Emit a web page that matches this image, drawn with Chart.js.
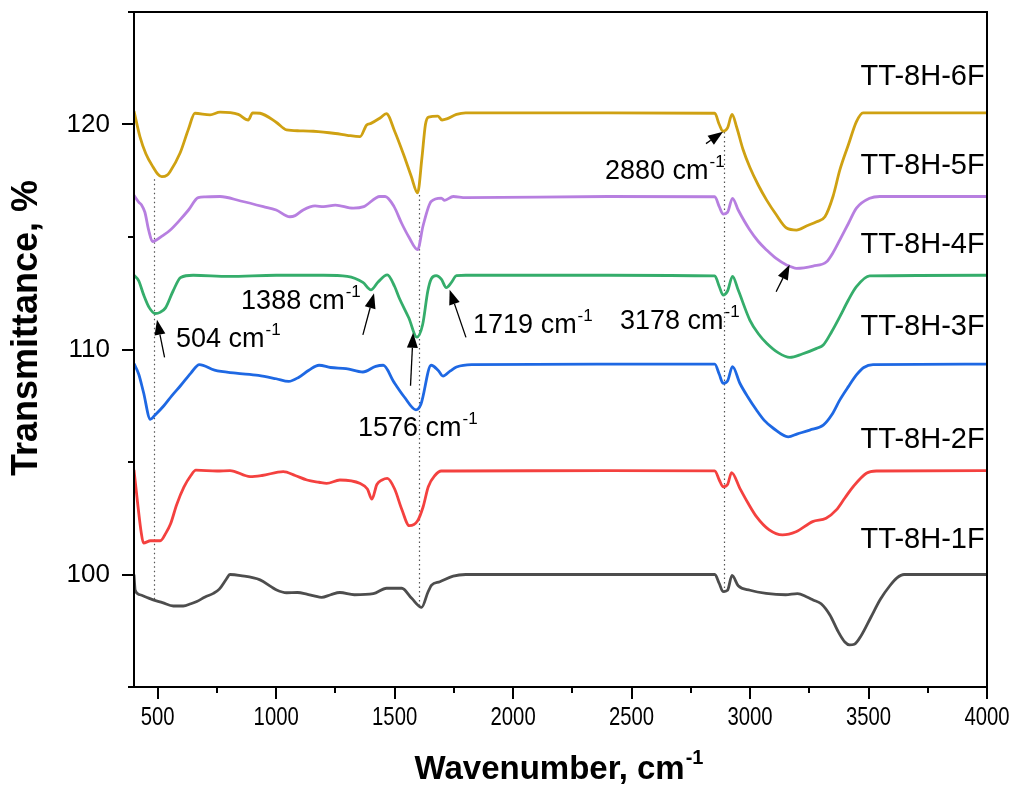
<!DOCTYPE html>
<html>
<head>
<meta charset="utf-8">
<script src="https://cdn.jsdelivr.net/npm/chart.js@4.4.1/dist/chart.umd.min.js"></script>
<style>
  html, body { margin: 0; padding: 0; background: #fff; }
  #wrap { width: 1020px; height: 789px; }
</style>
</head>
<body>
<div id="wrap"><canvas id="ftir" width="1020" height="789"></canvas></div>
<script>
/* -------------------------------------------------- */
/* FTIR spectra -- transmittance vs wavenumber         */
/* -------------------------------------------------- */

// TT-8H-1F
const WN_1F = [400, 405, 425, 450, 481, 520, 566, 608, 640, 665, 700, 735, 760, 790, 805, 850, 932, 980, 1002, 1044, 1090, 1129, 1160, 1192, 1230, 1269, 1330, 1410, 1466, 1530, 1572, 1614, 1640, 1656, 1691, 1747, 1800, 2400, 2851, 2870, 2886, 2905, 2924, 2950, 3000, 3068, 3150, 3200, 3240, 3266, 3300, 3337, 3370, 3400, 3420, 3440, 3470, 3510, 3550, 3590, 3620, 3650, 4000];
const T_1F  = [100.0, 99.3, 99.1, 99.0, 98.87, 98.75, 98.6, 98.6, 98.7, 98.8, 99.0, 99.16, 99.35, 99.8, 100.0, 99.95, 99.76, 99.45, 99.31, 99.19, 99.2, 99.13, 99.05, 98.98, 99.1, 99.2, 99.1, 99.15, 99.39, 99.39, 98.94, 98.54, 99.2, 99.53, 99.68, 99.93, 100.0, 100.0, 100.0, 99.6, 99.24, 99.3, 99.96, 99.5, 99.3, 99.16, 99.1, 99.15, 99.0, 98.87, 98.7, 98.2, 97.5, 97.0, 96.87, 96.9, 97.3, 98.1, 98.9, 99.5, 99.85, 100.0, 100.0];

// TT-8H-2F
const WN_2F = [400, 415, 430, 440, 470, 511, 535, 554, 580, 611, 640, 661, 750, 805, 890, 940, 1030, 1080, 1130, 1181, 1213, 1269, 1355, 1385, 1404, 1425, 1447, 1469, 1500, 1530, 1562, 1597, 1620, 1642, 1670, 1697, 1750, 2400, 2851, 2870, 2886, 2905, 2922, 2957, 2990, 3027, 3081, 3137, 3194, 3264, 3321, 3364, 3400, 3435, 3491, 3533, 4000];
const T_2F  = [104.65, 103.2, 101.9, 101.4, 101.5, 101.5, 101.85, 102.24, 103.1, 103.89, 104.4, 104.64, 104.6, 104.62, 104.35, 104.4, 104.57, 104.4, 104.2, 104.1, 104.05, 104.2, 104.04, 103.8, 103.35, 104.0, 104.2, 104.27, 103.8, 102.9, 102.17, 102.39, 103.0, 103.9, 104.4, 104.6, 104.6, 104.62, 104.61, 104.2, 103.9, 104.0, 104.53, 103.83, 103.2, 102.57, 101.98, 101.76, 101.9, 102.35, 102.5, 102.87, 103.4, 103.9, 104.5, 104.6, 104.62];

// TT-8H-3F
const WN_3F = [400, 420, 440, 469, 490, 526, 560, 597, 640, 676, 740, 830, 925, 1000, 1053, 1096, 1138, 1181, 1230, 1295, 1366, 1420, 1452, 1497, 1540, 1590, 1611, 1654, 1683, 1704, 1735, 1761, 1825, 2400, 2851, 2870, 2886, 2905, 2926, 2957, 2990, 3027, 3060, 3098, 3161, 3200, 3252, 3309, 3345, 3379, 3415, 3449, 3480, 3519, 4000];
const T_3F  = [109.37, 108.9, 108.1, 106.9, 107.1, 107.5, 107.95, 108.4, 108.95, 109.33, 109.08, 108.95, 108.85, 108.7, 108.58, 108.77, 109.08, 109.3, 109.2, 109.15, 109.0, 109.25, 109.3, 108.55, 107.9, 107.32, 107.57, 109.3, 109.08, 108.82, 109.05, 109.22, 109.33, 109.35, 109.35, 108.9, 108.5, 108.6, 109.24, 108.5, 107.9, 107.31, 106.85, 106.5, 106.12, 106.25, 106.42, 106.64, 107.1, 107.76, 108.35, 108.87, 109.2, 109.33, 109.35];

// TT-8H-4F
const WN_4F = [400, 420, 440, 465, 490, 510, 533, 565, 597, 650, 800, 1000, 1200, 1300, 1366, 1400, 1430, 1469, 1500, 1519, 1560, 1594, 1618, 1640, 1654, 1675, 1697, 1718, 1739, 1761, 1800, 2400, 2851, 2870, 2886, 2905, 2926, 2950, 2999, 3035, 3070, 3120, 3168, 3220, 3281, 3309, 3345, 3379, 3415, 3449, 3505, 4000];
const T_4F  = [113.3, 113.05, 112.45, 111.85, 111.6, 111.65, 111.85, 112.6, 113.2, 113.3, 113.25, 113.3, 113.3, 113.25, 112.98, 112.65, 113.0, 113.32, 112.8, 112.3, 111.4, 110.55, 111.1, 112.6, 113.13, 113.28, 113.13, 112.75, 112.97, 113.28, 113.3, 113.3, 113.27, 112.8, 112.42, 112.6, 113.25, 112.64, 111.31, 110.7, 110.28, 109.85, 109.65, 109.8, 110.05, 110.2, 110.8, 111.46, 112.2, 112.79, 113.27, 113.3];

// TT-8H-5F
const WN_5F = [400, 420, 432, 446, 462, 478, 496, 520, 552, 594, 630, 671, 700, 763, 850, 946, 1000, 1058, 1080, 1114, 1164, 1200, 1250, 1325, 1370, 1438, 1460, 1497, 1530, 1560, 1597, 1620, 1654, 1697, 1711, 1747, 1800, 2400, 2851, 2870, 2886, 2905, 2926, 2950, 2999, 3035, 3070, 3110, 3154, 3196, 3266, 3323, 3350, 3379, 3415, 3449, 3505, 3548, 4000];
const T_5F  = [116.85, 116.55, 116.42, 116.1, 115.3, 114.8, 114.88, 115.05, 115.3, 115.76, 116.2, 116.75, 116.78, 116.8, 116.6, 116.35, 116.2, 115.9, 115.95, 116.2, 116.38, 116.35, 116.42, 116.28, 116.35, 116.8, 116.8, 116.36, 115.6, 115.0, 114.44, 115.5, 116.58, 116.73, 116.63, 116.8, 116.75, 116.8, 116.79, 116.35, 116.02, 116.1, 116.72, 116.2, 115.31, 114.8, 114.42, 114.05, 113.76, 113.61, 113.71, 113.9, 114.3, 114.87, 115.6, 116.28, 116.72, 116.8, 116.8];

// TT-8H-6F
const WN_6F = [400, 425, 450, 481, 500, 517, 540, 552, 594, 630, 657, 721, 763, 840, 882, 901, 932, 1000, 1044, 1100, 1157, 1250, 1300, 1354, 1382, 1400, 1440, 1465, 1500, 1540, 1570, 1597, 1615, 1630, 1643, 1683, 1700, 1720, 1761, 1800, 2400, 2851, 2870, 2886, 2905, 2924, 2943, 2970, 2999, 3035, 3070, 3110, 3154, 3196, 3240, 3281, 3316, 3350, 3379, 3415, 3449, 3477, 4000];
const T_6F  = [120.6, 119.46, 118.7, 118.1, 117.8, 117.68, 117.75, 117.9, 118.72, 119.8, 120.5, 120.43, 120.55, 120.45, 120.2, 120.52, 120.5, 120.1, 119.76, 119.72, 119.7, 119.6, 119.52, 119.46, 119.98, 120.05, 120.3, 120.48, 119.7, 118.6, 117.7, 116.96, 118.5, 120.0, 120.33, 120.37, 120.2, 120.25, 120.45, 120.52, 120.52, 120.5, 120.0, 119.7, 119.85, 120.45, 119.9, 118.9, 118.1, 117.3, 116.64, 116.0, 115.4, 115.31, 115.5, 115.68, 115.9, 116.8, 117.98, 119.1, 120.13, 120.52, 120.52];

const SERIES_LABELS = ['TT-8H-1F', 'TT-8H-2F', 'TT-8H-3F', 'TT-8H-4F', 'TT-8H-5F', 'TT-8H-6F'];
const SERIES_COLORS = ['#4d4d4d', '#f4413f', '#1e68e3', '#35ad6b', '#b77fe0', '#cfa112'];
const SERIES_WN     = [WN_1F, WN_2F, WN_3F, WN_4F, WN_5F, WN_6F];
const SERIES_T      = [T_1F, T_2F, T_3F, T_4F, T_5F, T_6F];

// curve name placed at [wavenumber, transmittance] (right edge, middle)
const NAME_POS = [[3990, 101.53], [3990, 105.98], [3990, 111.01], [3990, 114.66], [3990, 118.17], [3990, 122.09]];

const X_TICKS = [500, 750, 1000, 1250, 1500, 1750, 2000, 2250, 2500, 2750, 3000, 3250, 3500, 3750, 4000];
const Y_TICKS = [95, 100, 105, 110, 115, 120, 125];

// dotted guides: wavenumber, from T, to T
const GUIDES = [[483, 98.9, 117.7], [1601, 98.6, 117.0], [2889, 99.2, 119.7]];

// band assignments: text, text left [wn, T], arrow tail [wn, T], arrow tip [wn, T]
const BAND_TEXT  = ['504', '1388', '1576', '1719', '2880', '3178'];
const BAND_LABEL = [[577, 110.43], [852, 112.12], [1345, 106.47], [1831, 111.05], [2388, 117.9], [2451, 111.23]];
const BAND_TAIL  = [[529, 109.65], [1366, 110.65], [1567, 108.39], [1801, 110.54], [2814, 119.15], [3110, 112.57]];
const BAND_TIP   = [[497, 111.32], [1413, 112.5], [1578, 110.74], [1732, 112.66], [2886, 119.68], [3167, 113.77]];

const FONT = "'Liberation Sans', Arial, Helvetica, sans-serif";

/* -------------------------------------------------- */
/* Helpers */
/* -------------------------------------------------- */

function drawSupText(ctx, main, sup, x, y, size, bold, align) {
  const weight = bold ? 'bold ' : '';
  ctx.font = weight + size + 'px ' + FONT;
  const wMain = ctx.measureText(main).width;
  const supSize = Math.round(size * 0.62);
  ctx.font = weight + supSize + 'px ' + FONT;
  const wSup = ctx.measureText(sup).width;
  let left = x;
  if (align === 'center') left = x - (wMain + wSup) / 2;
  if (align === 'right') left = x - (wMain + wSup);
  ctx.textAlign = 'left';
  ctx.textBaseline = 'middle';
  ctx.font = weight + size + 'px ' + FONT;
  ctx.fillText(main, left, y);
  ctx.font = weight + supSize + 'px ' + FONT;
  ctx.fillText(sup, left + wMain + 1, y - size * 0.36);
}

function drawArrow(ctx, x0, y0, x1, y1) {
  const ang = Math.atan2(y1 - y0, x1 - x0);
  const headLen = 15, headHalf = 5.5;
  const bx = x1 - headLen * Math.cos(ang);
  const by = y1 - headLen * Math.sin(ang);
  ctx.beginPath();
  ctx.moveTo(x0, y0);
  ctx.lineTo(bx, by);
  ctx.stroke();
  ctx.beginPath();
  ctx.moveTo(x1, y1);
  ctx.lineTo(bx + headHalf * Math.sin(ang), by - headHalf * Math.cos(ang));
  ctx.lineTo(bx - headHalf * Math.sin(ang), by + headHalf * Math.cos(ang));
  ctx.closePath();
  ctx.fill();
}

/* -------------------------------------------------- */
/* Plugins */
/* -------------------------------------------------- */

const guidesPlugin = {
  id: 'guides',
  beforeDatasetsDraw(chart) {
    const { ctx, scales: { x, y } } = chart;
    ctx.save();
    ctx.strokeStyle = '#555';
    ctx.lineWidth = 1.2;
    ctx.setLineDash([1.5, 3]);
    GUIDES.forEach(([wn, t0, t1]) => {
      const px = Math.round(x.getPixelForValue(wn)) + 0.5;
      ctx.beginPath();
      ctx.moveTo(px, y.getPixelForValue(t0));
      ctx.lineTo(px, y.getPixelForValue(t1));
      ctx.stroke();
    });
    ctx.restore();
  },
};

const framePlugin = {
  id: 'frame',
  afterDraw(chart) {
    const { ctx, chartArea: a, scales: { x, y } } = chart;
    ctx.save();
    ctx.strokeStyle = '#000';
    ctx.lineWidth = 2;
    ctx.strokeRect(a.left, a.top, a.right - a.left, a.bottom - a.top);

    // outward tick marks, long on labelled values
    x.ticks.forEach(t => {
      const px = Math.round(x.getPixelForValue(t.value));
      const len = t.value % 500 === 0 ? 12 : 6;
      ctx.beginPath();
      ctx.moveTo(px, a.bottom);
      ctx.lineTo(px, a.bottom + len);
      ctx.stroke();
    });
    y.ticks.forEach(t => {
      const py = Math.round(y.getPixelForValue(t.value));
      const len = t.value % 10 === 0 ? 12 : 6;
      ctx.beginPath();
      ctx.moveTo(a.left, py);
      ctx.lineTo(a.left - len, py);
      ctx.stroke();
    });

    // wavenumber labels are set in a condensed face
    ctx.fillStyle = '#000';
    ctx.font = '26px ' + FONT;
    ctx.textAlign = 'center';
    ctx.textBaseline = 'middle';
    x.ticks.forEach(t => {
      if (t.value % 500 !== 0) return;
      ctx.save();
      ctx.translate(x.getPixelForValue(t.value), a.bottom + 31);
      ctx.scale(0.78, 1);
      ctx.fillText(String(t.value), 0, 0);
      ctx.restore();
    });

    // axis titles
    drawSupText(ctx, 'Wavenumber, cm', '-1', (a.left + a.right) / 2 - 2, 770, 33, true, 'center');
    ctx.save();
    ctx.translate(27, 328);
    ctx.rotate(-Math.PI / 2);
    ctx.font = 'bold 36px ' + FONT;
    ctx.textAlign = 'center';
    ctx.textBaseline = 'middle';
    ctx.fillText('Transmittance, %', 0, 0);
    ctx.restore();
    ctx.restore();
  },
};

const labelsPlugin = {
  id: 'bandLabels',
  afterDatasetsDraw(chart) {
    const { ctx, scales: { x, y } } = chart;
    ctx.save();
    ctx.fillStyle = '#000';
    ctx.strokeStyle = '#000';
    ctx.lineWidth = 1.3;

    BAND_TEXT.forEach((txt, i) => {
      const [lw, lt] = BAND_LABEL[i];
      drawSupText(ctx, txt + ' cm', '-1', x.getPixelForValue(lw), y.getPixelForValue(lt), 27, false, 'left');
      const [tw, tt] = BAND_TAIL[i];
      const [hw, ht] = BAND_TIP[i];
      drawArrow(ctx, x.getPixelForValue(tw), y.getPixelForValue(tt), x.getPixelForValue(hw), y.getPixelForValue(ht));
    });

    ctx.font = '29px ' + FONT;
    ctx.textAlign = 'right';
    ctx.textBaseline = 'middle';
    SERIES_LABELS.forEach((name, i) => {
      const [nw, nt] = NAME_POS[i];
      ctx.fillText(name, x.getPixelForValue(nw), y.getPixelForValue(nt));
    });
    ctx.restore();
  },
};

/* -------------------------------------------------- */
/* Chart */
/* -------------------------------------------------- */

const datasets = SERIES_LABELS.map((name, i) => ({
  label: name,
  data: SERIES_WN[i].map((wn, k) => ({ x: wn, y: SERIES_T[i][k] })),
  borderColor: SERIES_COLORS[i],
  borderWidth: 2.8,
  pointRadius: 0,
  fill: false,
  cubicInterpolationMode: 'monotone',
}));

const ctx = document.getElementById('ftir').getContext('2d');
new Chart(ctx, {
  type: 'line',
  data: { datasets },
  options: {
    responsive: false,
    animation: false,
    devicePixelRatio: 1,
    layout: { padding: { left: 0, right: 33, top: 12, bottom: 0 } },
    plugins: {
      legend: { display: false },
      tooltip: { enabled: false },
    },
    scales: {
      x: {
        type: 'linear',
        min: 400,
        max: 4000,
        afterBuildTicks: s => { s.ticks = X_TICKS.map(v => ({ value: v })); },
        afterFit: s => { s.height = 102; s.paddingLeft = 0; s.paddingRight = 0; },
        grid: { display: false, drawTicks: false },
        border: { display: false },
        ticks: { display: false },
      },
      y: {
        min: 95,
        max: 125,
        afterBuildTicks: s => { s.ticks = Y_TICKS.map(v => ({ value: v })); },
        afterFit: s => { s.width = 134; s.paddingTop = 0; s.paddingBottom = 0; },
        grid: { display: false, drawTicks: false },
        border: { display: false },
        ticks: {
          padding: 24,
          color: '#000',
          font: { family: FONT, size: 26 },
          callback: v => (v % 10 === 0 ? String(v) : ''),
        },
      },
    },
  },
  plugins: [guidesPlugin, labelsPlugin, framePlugin],
});
</script>
</body>
</html>
